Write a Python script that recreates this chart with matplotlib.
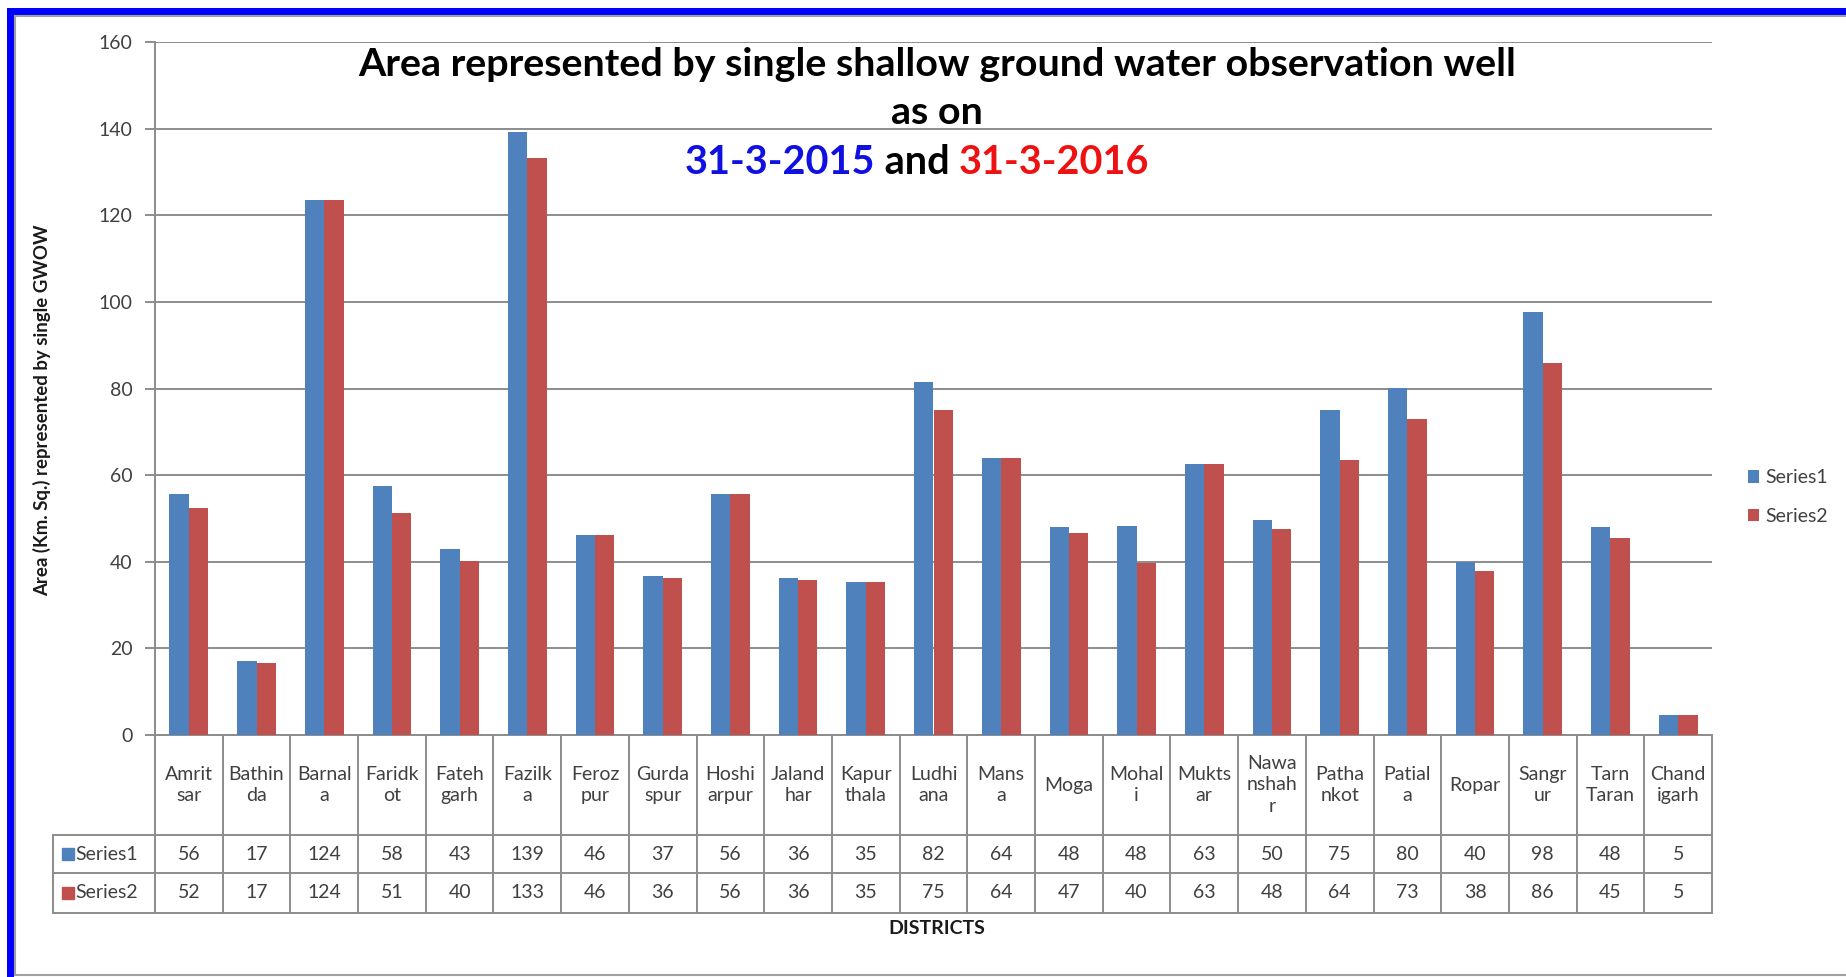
import matplotlib
matplotlib.use('Agg')
import matplotlib.pyplot as plt
import matplotlib.transforms as mtransforms
from matplotlib.patches import Rectangle
import numpy as np

plt.rcParams['font.family'] = ['Lato', 'DejaVu Sans']

districts = ['Amrit\nsar', 'Bathin\nda', 'Barnal\na', 'Faridk\not', 'Fateh\ngarh',
             'Fazilk\na', 'Feroz\npur', 'Gurda\nspur', 'Hoshi\narpur', 'Jaland\nhar',
             'Kapur\nthala', 'Ludhi\nana', 'Mans\na', 'Moga', 'Mohal\ni', 'Mukts\nar',
             'Nawa\nnshah\nr', 'Patha\nnkot', 'Patial\na', 'Ropar', 'Sangr\nur',
             'Tarn\nTaran', 'Chand\nigarh']
series1 = [55.6, 17.2, 123.6, 57.6, 43.0, 139.2, 46.2, 36.6, 55.6, 36.2, 35.3, 81.6,
           64.0, 48.0, 48.3, 62.6, 49.6, 75.0, 80.2, 40.0, 97.6, 48.0, 4.6]
series2 = [52.3, 16.7, 123.6, 51.2, 40.2, 133.2, 46.2, 36.2, 55.6, 35.8, 35.3, 75.0,
           64.0, 46.6, 39.6, 62.6, 47.6, 63.6, 73.0, 37.8, 86.0, 45.4, 4.6]
series_names = ['Series1', 'Series2']

BLUE = '#4F81BD'
RED = '#C0504D'
GRID = '#8c8c8c'
TXT = '#404040'
FS = 14

W, H = 1846, 977


def fx(px):
    return px / W


def fy(py):
    return 1 - py / H


fig = plt.figure(figsize=(W / 100, H / 100), dpi=100)
fig.patch.set_facecolor('white')

# frame of the screenshot
fig.add_artist(Rectangle((fx(7), fy(15)), 1, 7 / H, transform=fig.transFigure,
                         color='#0000ff', lw=0))
fig.add_artist(Rectangle((fx(7), 0), 7 / W, fy(8), transform=fig.transFigure,
                         color='#0000ff', lw=0))
for seg in [([fx(15), 1], [fy(16), fy(16)]), ([fx(15), fx(15)], [fy(16), fy(975)]),
            ([fx(15), 1], [fy(975), fy(975)])]:
    fig.add_artist(plt.Line2D(seg[0], seg[1], transform=fig.transFigure,
                              color='#a0a0a0', lw=1.5))

ax = fig.add_axes([fx(155), fy(735), (1712 - 155) / W, (735 - 42) / H])
n = len(districts)
x = np.arange(n)
w = 0.286
ax.bar(x - w / 2, series1, w, color=BLUE, label=series_names[0], zorder=3)
ax.bar(x + w / 2, series2, w, color=RED, label=series_names[1], zorder=3)
ax.set_xlim(-0.5, n - 0.5)
ax.set_ylim(0, 160)
ax.set_yticks(range(0, 161, 20))
ax.yaxis.grid(True, color=GRID, lw=1.4)
ax.set_axisbelow(True)
ax.set_xticks([])
for s in ['top', 'right']:
    ax.spines[s].set_visible(False)
ax.spines['left'].set_color(GRID)
ax.spines['bottom'].set_color(GRID)
ax.spines['left'].set_linewidth(1.4)
ax.spines['bottom'].set_linewidth(1.4)
ax.tick_params(axis='y', length=7, width=1.4, color=GRID, labelsize=FS,
               labelcolor=TXT, pad=9)

# data table under the axis
trans = mtransforms.blended_transform_factory(ax.transData, ax.transAxes)
axh = 735 - 42
r0, r1, r2, r3 = 0, -100 / axh, -138 / axh, -178 / axh
lkw = dict(color=GRID, lw=1.4, transform=trans, clip_on=False)
for i in range(n + 1):
    ax.plot([i - 0.5, i - 0.5], [r0, r3], **lkw)
ax.plot([-2.0, -2.0], [r1, r3], **lkw)
for r in [r1, r2, r3]:
    ax.plot([-2.0, n - 0.5], [r, r], **lkw)

for i, name in enumerate(districts):
    ax.text(i, (r0 + r1) / 2, name, ha='center', va='center', fontsize=FS,
            color=TXT, transform=trans, linespacing=1.3)
    ax.text(i, (r1 + r2) / 2, f'{series1[i]:.0f}', ha='center', va='center',
            fontsize=FS, color=TXT, transform=trans)
    ax.text(i, (r2 + r3) / 2, f'{series2[i]:.0f}', ha='center', va='center',
            fontsize=FS, color=TXT, transform=trans)

for (lo, hi), name, col in zip([(r1, r2), (r2, r3)], series_names, [BLUE, RED]):
    ax.plot([-1.79], [(lo + hi) / 2], marker='s', ms=9, color=col, transform=trans,
            clip_on=False, lw=0)
    ax.text(-1.68, (lo + hi) / 2, name, ha='left', va='center', fontsize=FS,
            color=TXT, transform=trans)

fig.legend(loc='center left', bbox_to_anchor=(fx(1730), fy(497)), frameon=False,
           handlelength=0.6, handleheight=0.6, handletextpad=0.3, labelspacing=1.1,
           fontsize=FS, labelcolor=TXT)

fig.text(fx(42), fy(410), 'Area (Km. Sq.) represented by single GWOW', rotation=90,
         ha='center', va='center', fontsize=13.4, fontweight='bold', color='#1a1a1a')
fig.text(fx(937), fy(929), 'DISTRICTS', ha='center', va='center', fontsize=14,
         fontweight='bold', color='#1a1a1a')

# title block
fig.text(fx(937), fy(65), 'Area represented by single shallow ground water observation well',
         ha='center', va='center', fontsize=28.4, fontweight='bold', color='black')
fig.text(fx(937), fy(112), 'as on', ha='center', va='center', fontsize=28.4,
         fontweight='bold', color='black')
renderer = fig.canvas.get_renderer()
mid = fig.text(fx(917), fy(162), ' and ', ha='center', va='center', fontsize=28.5,
               fontweight='bold', color='black')
bb = mid.get_window_extent(renderer).transformed(fig.transFigure.inverted())
fig.text(bb.x0, fy(162), '31-3-2015', ha='right', va='center', fontsize=28.5,
         fontweight='bold', color='#1010e0')
fig.text(bb.x1, fy(162), '31-3-2016', ha='left', va='center', fontsize=28.5,
         fontweight='bold', color='#ee1111')

fig.savefig('out.png', dpi=100)
